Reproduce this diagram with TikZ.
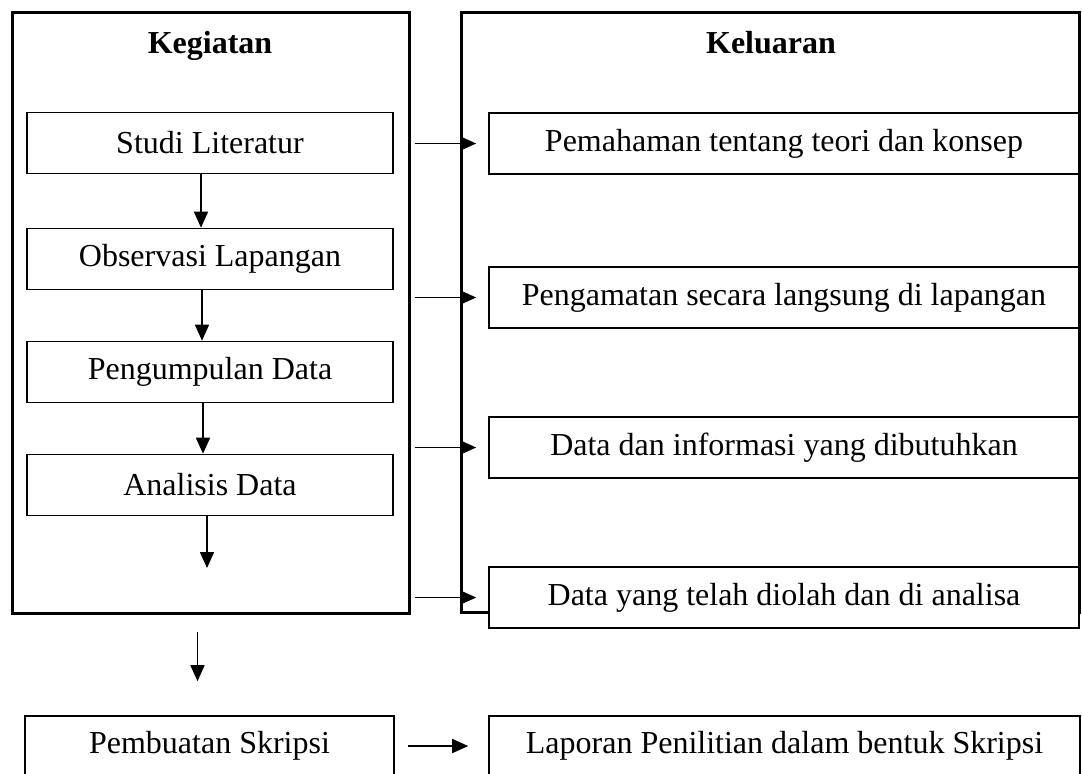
\documentclass[tikz,border=0pt]{standalone}
\usepackage{fontspec}
\setmainfont{Liberation Serif}
\usetikzlibrary{arrows.meta,positioning,calc}

\begin{document}
\begin{tikzpicture}[x=0.5pt,y=-0.5pt,
  font=\fontsize{16}{19}\selectfont,
  outerbox/.style={draw,line width=1.5pt,inner sep=0pt},
  stepbox/.style={draw,line width=0.8pt,fill=white,minimum width=183pt,minimum height=30.5pt,inner sep=0pt},
  outbox/.style={draw,line width=0.8pt,fill=white,minimum width=295pt,minimum height=30.5pt,inner sep=0pt},
  head/.style={font=\fontsize{16}{19}\selectfont\bfseries,anchor=base},
  arr/.style={-{Triangle[length=8pt,width=7pt]},line width=0.8pt}]
  \useasboundingbox (0,0) rectangle (1082,773);
  % Frames
  \node[outerbox,minimum width=198.5pt,minimum height=300.5pt] (kegiatan) at (210.5,312.5) {};
  \node[outerbox,minimum width=309pt,minimum height=300pt] (keluaran) at (770,312) {};
  \node[head] (kegiatanlbl) at (210,53) {Kegiatan};
  \node[head] (keluaranlbl) at (771,53) {Keluaran};
  % Kegiatan steps
  \node[stepbox] (studi) at (210,143) {Studi Literatur};
  \node[stepbox] (observasi) at (210,259) {Observasi Lapangan};
  \node[stepbox] (pengumpulan) at (210,372) {Pengumpulan Data};
  \node[stepbox] (analisis) at (210,485) {Analisis Data};
  \coordinate (analisisend) at (207,568);
  % Keluaran
  \node[outbox] (pemahaman) at (784,143.5) {Pemahaman tentang teori dan konsep};
  \node[outbox] (pengamatan) at (784,297.5) {Pengamatan secara langsung di lapangan};
  \node[outbox] (datainfo) at (784,447.5) {Data dan informasi yang dibutuhkan};
  \node[outbox] (dataolah) at (784,597.5) {Data yang telah diolah dan di analisa};
  % Skripsi
  \node[stepbox,minimum width=184.5pt,minimum height=30pt] (skripsi) at (209.5,746) {Pembuatan Skripsi};
  \node[outbox,minimum width=295.5pt,minimum height=30pt] (laporan) at (784.5,746) {Laporan Penilitian dalam bentuk Skripsi};
  % Arrows
  \draw[arr] ([xshift=-4.5pt]studi.south) -- ([xshift=-4.5pt]observasi.north);
  \draw[arr] ([xshift=-4pt]observasi.south) -- ([xshift=-4pt]pengumpulan.north);
  \draw[arr] ([xshift=-3.5pt]pengumpulan.south) -- ([xshift=-3.5pt]analisis.north);
  \draw[arr] (analisis.south -| analisisend) -- (analisisend);
  \foreach \o in {pemahaman,pengamatan,datainfo,dataolah}
    \draw[arr,shorten <=2pt,shorten >=6pt] (kegiatan.east |- \o.west) -- (\o.west);
  \draw[arr,shorten <=8.5pt,shorten >=17pt] ([xshift=-6pt]kegiatan.south -| skripsi.north) -- ([xshift=-6pt]skripsi.north);
  \draw[arr,shorten <=6.5pt,shorten >=10pt] (skripsi) -- (laporan);
\end{tikzpicture}
\end{document}
